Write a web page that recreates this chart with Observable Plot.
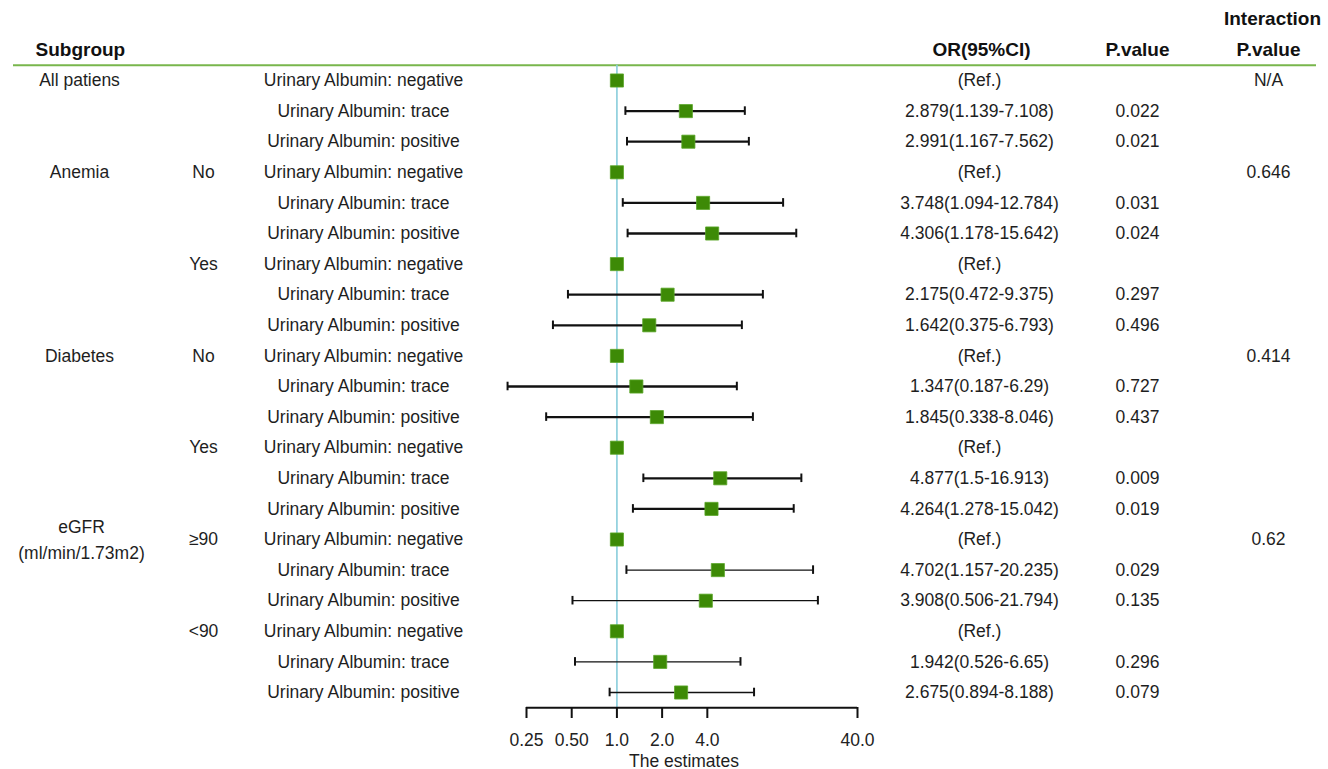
<!DOCTYPE html>
<html>
<head>
<meta charset="utf-8">
<script src="https://cdn.jsdelivr.net/npm/d3@7"></script>
<script src="https://cdn.jsdelivr.net/npm/@observablehq/plot@0.6"></script>
<style>
  html, body { margin: 0; padding: 0; background: #fff; }
  #chart svg { display: block; }
</style>
</head>
<body>
<div id="chart"></div>
<script>
// ---- Data ----
const rowLabels = [
  "Urinary Albumin: negative", "Urinary Albumin: trace", "Urinary Albumin: positive",
  "Urinary Albumin: negative", "Urinary Albumin: trace", "Urinary Albumin: positive",
  "Urinary Albumin: negative", "Urinary Albumin: trace", "Urinary Albumin: positive",
  "Urinary Albumin: negative", "Urinary Albumin: trace", "Urinary Albumin: positive",
  "Urinary Albumin: negative", "Urinary Albumin: trace", "Urinary Albumin: positive",
  "Urinary Albumin: negative", "Urinary Albumin: trace", "Urinary Albumin: positive",
  "Urinary Albumin: negative", "Urinary Albumin: trace", "Urinary Albumin: positive"
];
const estimates = [1, 2.879, 2.991, 1, 3.748, 4.306, 1, 2.175, 1.642, 1, 1.347, 1.845, 1, 4.877, 4.264, 1, 4.702, 3.908, 1, 1.942, 2.675];
const lowers = [null, 1.139, 1.167, null, 1.094, 1.178, null, 0.472, 0.375, null, 0.187, 0.338, null, 1.5, 1.278, null, 1.157, 0.506, null, 0.526, 0.894];
const uppers = [null, 7.108, 7.562, null, 12.784, 15.642, null, 9.375, 6.793, null, 6.29, 8.046, null, 16.913, 15.042, null, 20.235, 21.794, null, 6.65, 8.188];
const orTexts = [
  "(Ref.)", "2.879(1.139-7.108)", "2.991(1.167-7.562)",
  "(Ref.)", "3.748(1.094-12.784)", "4.306(1.178-15.642)",
  "(Ref.)", "2.175(0.472-9.375)", "1.642(0.375-6.793)",
  "(Ref.)", "1.347(0.187-6.29)", "1.845(0.338-8.046)",
  "(Ref.)", "4.877(1.5-16.913)", "4.264(1.278-15.042)",
  "(Ref.)", "4.702(1.157-20.235)", "3.908(0.506-21.794)",
  "(Ref.)", "1.942(0.526-6.65)", "2.675(0.894-8.188)"
];
const pTexts = ["", "0.022", "0.021", "", "0.031", "0.024", "", "0.297", "0.496", "", "0.727", "0.437", "", "0.009", "0.019", "", "0.029", "0.135", "", "0.296", "0.079"];
const subgroups = [
  {row: 0, text: "All patiens"},
  {row: 3, text: "Anemia"},
  {row: 9, text: "Diabetes"}
];
const eGFRLabel = [{row: 15, text: "eGFR\n(ml/min/1.73m2)"}];
const levels = [
  {row: 3, text: "No"}, {row: 6, text: "Yes"},
  {row: 9, text: "No"}, {row: 12, text: "Yes"},
  {row: 15, text: "\u226590"}, {row: 18, text: "<90"}
];
const interactions = [
  {row: 0, text: "N/A"}, {row: 3, text: "0.646"}, {row: 9, text: "0.414"}, {row: 15, text: "0.62"}
];
const tickValues = [0.25, 0.5, 1, 2, 4, 40];
const tickLabels = ["0.25", "0.50", "1.0", "2.0", "4.0", "40.0"];

// ---- Table built from arrays ----
const rows = rowLabels.map((label, i) => ({
  row: i, label, est: estimates[i], lo: lowers[i], hi: uppers[i],
  orText: orTexts[i], p: pTexts[i], thin: i >= 15
}));
const ciRows = rows.filter(d => d.lo != null);

const font = "Liberation Sans, Arial, Helvetica, sans-serif";
const fs = 17.5;
const green = "#3d8a06";
const ink = "#1e1e1e";

const col = (data, opts) => Plot.text(data, {frameAnchor: "left", textAnchor: "middle", fontSize: fs, fill: ink, ...opts});

const chart = Plot.plot({
  width: 1328,
  height: 769,
  marginLeft: 526,
  marginRight: 471,
  marginTop: 10,
  marginBottom: 62,
  style: {fontFamily: font, background: "#fff", overflow: "visible"},
  x: {type: "log", domain: [0.25, 40], axis: null},
  y: {domain: [0, 20], range: [80, 692], axis: null},
  marks: [
    // header underline
    Plot.ruleY([-0.5], {stroke: "#78b64c", strokeWidth: 2, insetLeft: -513, insetRight: -459}),
    // reference line
    Plot.ruleX([1], {y1: -0.5, y2: 20.5, stroke: "#88cddb", strokeWidth: 1.6}),
    // CI lines
    Plot.ruleY(ciRows, {y: "row", x1: "lo", x2: "hi", stroke: "#111", strokeWidth: d => d.thin ? 1.3 : 2.3}),
    Plot.ruleX(ciRows, {x: "lo", y1: d => d.row - 0.14, y2: d => d.row + 0.14, stroke: "#111", strokeWidth: 2}),
    Plot.ruleX(ciRows, {x: "hi", y1: d => d.row - 0.14, y2: d => d.row + 0.14, stroke: "#111", strokeWidth: 2}),
    // estimate squares
    Plot.dot(rows, {x: "est", y: "row", symbol: "square", r: 7.4, fill: green, stroke: "#5aa628", strokeWidth: 0.8}),
    // axis line and ticks
    Plot.ruleY([20.5], {x1: tickValues[0], x2: tickValues[tickValues.length - 1], stroke: "#111", strokeWidth: 2}),
    Plot.axisX({
      ticks: tickValues,
      tickFormat: d => tickLabels[tickValues.indexOf(d)],
      tickSize: 11, tickPadding: 15, strokeWidth: 2, stroke: "#111",
      fontSize: fs, fill: "#222", label: null
    }),
    Plot.text(["The estimates"], {frameAnchor: "bottom", dx: -8, dy: 59, fontSize: fs, fill: ink}),
    // headers
    Plot.text(["Subgroup"], {y: () => -1, frameAnchor: "left", dx: -491, textAnchor: "start", fontSize: 19, fontWeight: "bold", fill: "#111"}),
    col(["OR(95%CI)"], {y: () => -1, dx: 455, fontSize: 19, fontWeight: "bold", fill: "#111"}),
    col(["P.value"], {y: () => -1, dx: 611, fontSize: 19, fontWeight: "bold", fill: "#111"}),
    col(["P.value"], {y: () => -1, dx: 742, fontSize: 19, fontWeight: "bold", fill: "#111"}),
    col(["Interaction"], {y: () => -2, dx: 746, fontSize: 19, fontWeight: "bold", fill: "#111"}),
    // table columns
    col(subgroups, {y: "row", text: "text", dx: -447}),
    col(eGFRLabel, {y: "row", text: "text", dx: -445, dy: -2, lineHeight: 1.48}),
    col(levels, {y: "row", text: "text", dx: -323}),
    col(rows, {y: "row", text: "label", dx: -163}),
    col(rows, {y: "row", text: "orText", dx: 453}),
    col(rows, {y: "row", text: "p", dx: 611}),
    col(interactions, {y: "row", text: "text", dx: 742})
  ]
});
document.getElementById("chart").appendChild(chart);
</script>
</body>
</html>
